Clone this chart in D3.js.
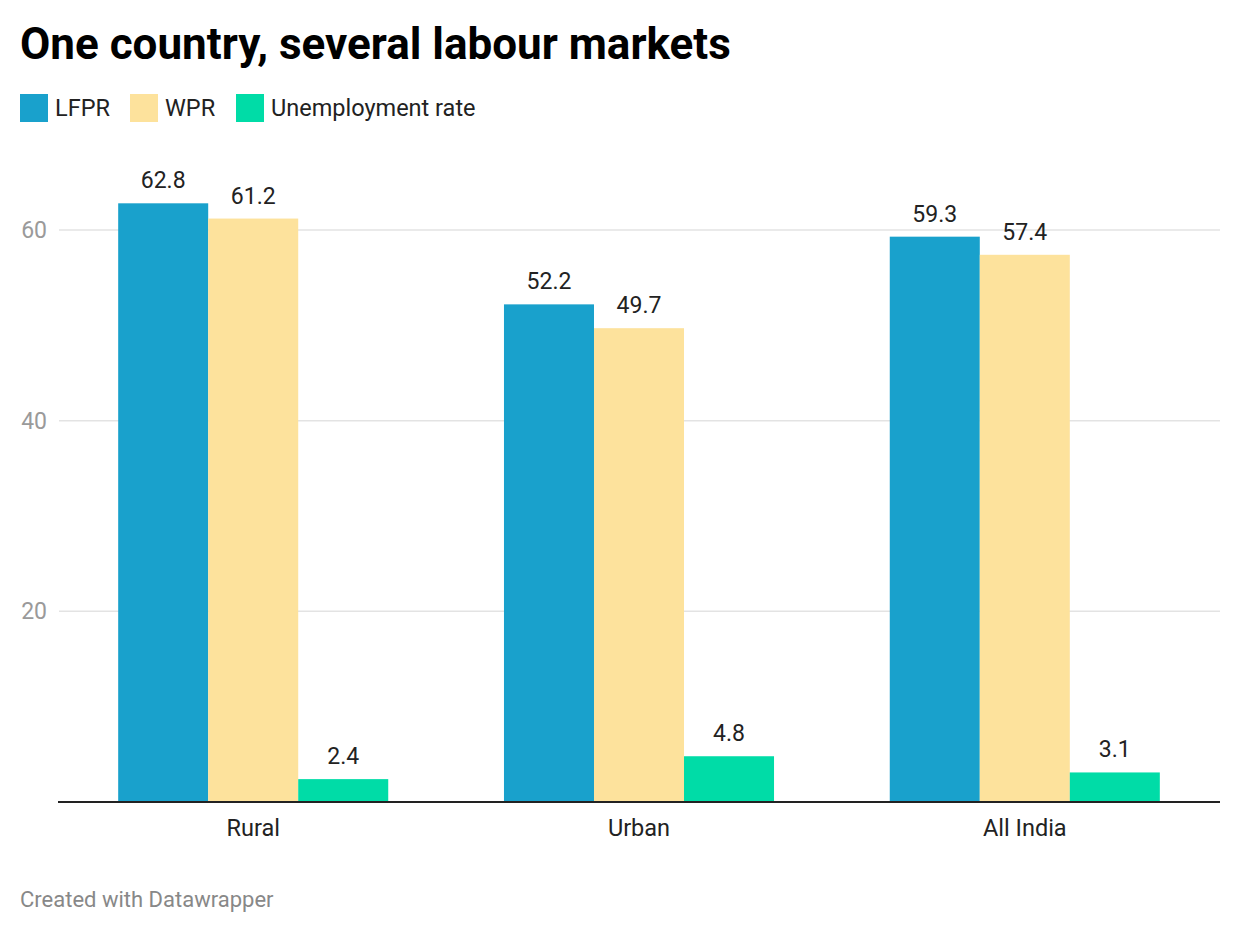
<!DOCTYPE html>
<html><head><meta charset="utf-8">
<script src="https://cdn.jsdelivr.net/npm/d3@7"></script>
<style>
body{margin:0;background:#fff;font-family:Roboto,"Noto Sans",sans-serif;}
</style></head>
<body>
<svg id="c" width="1240" height="934"></svg>
<script>
const categories = ["Rural", "Urban", "All India"];
const seriesNames = ["LFPR", "WPR", "Unemployment rate"];
const lfpr = [62.8, 52.2, 59.3];
const wpr = [61.2, 49.7, 57.4];
const unemployment = [2.4, 4.8, 3.1];
const yTicks = [20, 40, 60];
const colors = ["#19a1cc", "#fde29c", "#00dca7"];

const seriesValues = [lfpr, wpr, unemployment];
const svg = d3.select("#c");

svg.append("text").attr("x", 20).attr("y", 59)
  .attr("font-size", 44).attr("font-weight", 700).attr("fill", "#000")
  .text("One country, several labour markets");

// legend
const legendX = [20, 130, 236];
seriesNames.forEach((n, i) => {
  svg.append("rect").attr("x", legendX[i]).attr("y", 94).attr("width", 28).attr("height", 28).attr("fill", colors[i]);
  svg.append("text").attr("x", legendX[i] + 35).attr("y", 116).attr("font-size", 23.5).attr("fill", "#222").text(n);
});

const x0 = d3.scaleBand().domain(categories).range([58, 1220]).paddingInner(0.3).paddingOuter(0.156);
const x1 = d3.scaleBand().domain(seriesNames).range([0, x0.bandwidth()]);
const y = d3.scaleLinear().domain([0, 60]).range([802, 230]);

// grid
svg.append("g").selectAll("line").data(yTicks).join("line")
  .attr("x1", 59).attr("x2", 1220).attr("y1", d => y(d)).attr("y2", d => y(d))
  .attr("stroke", "#e3e3e3").attr("stroke-width", 1.5);
svg.append("g").selectAll("text").data(yTicks).join("text")
  .attr("x", 47).attr("y", d => y(d) + 8).attr("text-anchor", "end")
  .attr("font-size", 23).attr("fill", "#9a9a9a").text(d => d);

// bars
const data = [];
categories.forEach((c, ci) => seriesNames.forEach((s, si) => data.push({c, s, si, v: seriesValues[si][ci]})));
svg.append("g").selectAll("rect").data(data).join("rect")
  .attr("x", d => x0(d.c) + x1(d.s)).attr("width", x1.bandwidth())
  .attr("y", d => y(d.v)).attr("height", d => y(0) - y(d.v))
  .attr("fill", d => colors[d.si]);
svg.append("g").selectAll("text").data(data).join("text")
  .attr("x", d => x0(d.c) + x1(d.s) + x1.bandwidth() / 2)
  .attr("y", d => y(d.v) - 15).attr("text-anchor", "middle")
  .attr("font-size", 23).attr("fill", "#222").text(d => d.v.toFixed(1));

// axis line
svg.append("line").attr("x1", 58).attr("x2", 1220).attr("y1", y(0)).attr("y2", y(0))
  .attr("stroke", "#222").attr("stroke-width", 2);

svg.append("g").selectAll("text").data(categories).join("text")
  .attr("x", d => x0(d) + x0.bandwidth() / 2).attr("y", 836).attr("text-anchor", "middle")
  .attr("font-size", 23.5).attr("fill", "#222").text(d => d);

svg.append("text").attr("x", 20).attr("y", 907).attr("font-size", 22).attr("fill", "#888")
  .text("Created with Datawrapper");
</script>
</body></html>
